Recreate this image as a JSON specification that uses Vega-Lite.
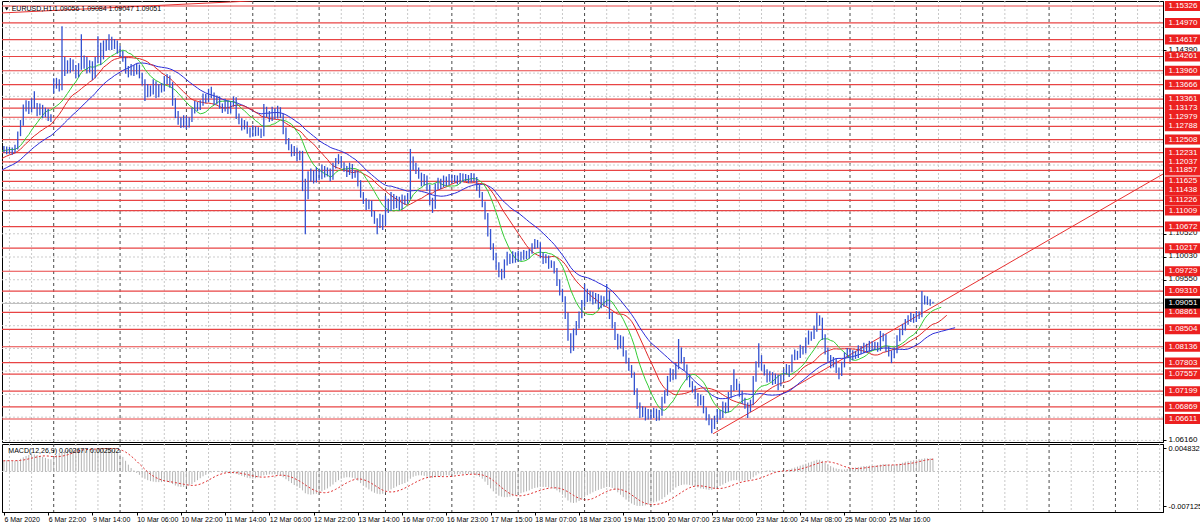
{
"$schema": "https://vega.github.io/schema/vega-lite/v6.json",
"padding": 0,
"background": "white",
"spacing": 2,
"bounds": "flush",
"config": {"view": {"stroke": "#000", "strokeWidth": 1}, "font": "Liberation Sans"},
"data": {"values": "b,h,l,c,m\n-32,1.1131,1.1115,1.1125,0.0012\n-31,1.1138,1.1120,1.1132,0.0012\n-30,1.1137,1.1122,1.1128,0.0013\n-29,1.1143,1.1124,1.1138,0.0013\n-28,1.1148,1.1133,1.1142,0.0014\n-27,1.1146,1.1130,1.1135,0.0014\n-26,1.1151,1.1131,1.1146,0.0015\n-25,1.1156,1.1141,1.1150,0.0015\n-24,1.1154,1.1139,1.1144,0.0015\n-23,1.1160,1.1140,1.1155,0.0016\n-22,1.1166,1.1150,1.1160,0.0016\n-21,1.1165,1.1152,1.1158,0.0016\n-20,1.1173,1.1154,1.1168,0.0017\n-19,1.1181,1.1163,1.1175,0.0017\n-18,1.1180,1.1166,1.1172,0.0018\n-17,1.1189,1.1168,1.1184,0.0018\n-16,1.1196,1.1179,1.1190,0.0019\n-15,1.1194,1.1181,1.1186,0.0019\n-14,1.1201,1.1182,1.1196,0.0019\n-13,1.1210,1.1191,1.1204,0.0020\n-12,1.1208,1.1195,1.1200,0.0020\n-11,1.1217,1.1196,1.1212,0.0021\n-10,1.1224,1.1207,1.1218,0.0021\n-9,1.1222,1.1210,1.1215,0.0021\n-8,1.1229,1.1211,1.1224,0.0022\n-7,1.1236,1.1219,1.1230,0.0022\n-6,1.1234,1.1221,1.1226,0.0022\n-5,1.1238,1.1222,1.1233,0.0022\n-4,1.1241,1.1228,1.1236,0.0022\n-3,1.1240,1.1224,1.1229,0.0022\n-2,1.1239,1.1225,1.1234,0.0022\n-1,1.1237,1.1223,1.1228,0.0022\n0,1.1237,1.1223,1.1232,0.0022\n1,1.1236,1.1220,1.1226,0.0023\n2,1.1235,1.1221,1.1230,0.0023\n3,1.1234,1.1219,1.1224,0.0022\n4,1.1240,1.1222,1.1233,0.0022\n5,1.1268,1.1230,1.1262,0.0023\n6,1.1292,1.1258,1.1285,0.0026\n7,1.1325,1.1280,1.1318,0.0029\n8,1.1334,1.1310,1.1325,0.0032\n9,1.1332,1.1305,1.1312,0.0034\n10,1.1338,1.1308,1.1330,0.0035\n11,1.1353,1.1316,1.1322,0.0035\n12,1.1328,1.1300,1.1308,0.0034\n13,1.1327,1.1302,1.1320,0.0032\n14,1.1324,1.1296,1.1304,0.0030\n15,1.1318,1.1298,1.1312,0.0028\n16,1.1316,1.1290,1.1298,0.0026\n17,1.1304,1.1288,1.1296,0.0025\n18,1.1380,1.1348,1.1365,0.0030\n19,1.1381,1.1358,1.1372,0.0034\n20,1.1378,1.1352,1.1360,0.0038\n21,1.1490,1.1355,1.1395,0.0041\n22,1.1425,1.1385,1.1410,0.0043\n23,1.1418,1.1390,1.1398,0.0044\n24,1.1423,1.1392,1.1415,0.0045\n25,1.1420,1.1395,1.1402,0.0045\n26,1.1408,1.1380,1.1388,0.0045\n27,1.1412,1.1382,1.1405,0.0046\n28,1.1473,1.1398,1.1406,0.0047\n29,1.1428,1.1400,1.1420,0.0046\n30,1.1425,1.1390,1.1398,0.0046\n31,1.1418,1.1392,1.1412,0.0046\n32,1.1416,1.1376,1.1385,0.0047\n33,1.1425,1.1380,1.1418,0.0047\n34,1.1469,1.1412,1.1440,0.0048\n35,1.1455,1.1408,1.1425,0.0048\n36,1.1460,1.1420,1.1450,0.00483\n37,1.1462,1.1438,1.1445,0.0048\n38,1.1473,1.1440,1.1462,0.0047\n39,1.1468,1.1440,1.1448,0.0046\n40,1.1463,1.1442,1.1455,0.0044\n41,1.1460,1.1432,1.1440,0.0040\n42,1.1448,1.1425,1.1432,0.0035\n43,1.1438,1.1415,1.1420,0.0030\n44,1.1425,1.1390,1.1398,0.0022\n45,1.1406,1.1382,1.1392,0.0014\n46,1.1410,1.1386,1.1402,0.0007\n47,1.1408,1.1385,1.1394,0.0002\n48,1.1412,1.1388,1.1405,-0.0003\n49,1.1409,1.1380,1.1388,-0.0007\n50,1.1392,1.1365,1.1372,-0.0011\n51,1.1378,1.1332,1.1348,-0.0015\n52,1.1368,1.1340,1.1360,-0.0018\n53,1.1365,1.1342,1.1352,-0.0020\n54,1.1378,1.1346,1.1370,-0.0021\n55,1.1374,1.1338,1.1345,-0.0022\n56,1.1368,1.1340,1.1362,-0.0022\n57,1.1370,1.1350,1.1358,-0.0022\n58,1.1385,1.1352,1.1375,-0.0021\n59,1.1389,1.1368,1.1380,-0.0021\n60,1.1386,1.1360,1.1368,-0.0023\n61,1.1372,1.1322,1.1330,-0.0026\n62,1.1338,1.1296,1.1305,-0.0029\n63,1.1311,1.1282,1.1290,-0.0031\n64,1.1298,1.1275,1.1282,-0.0032\n65,1.1302,1.1276,1.1295,-0.0032\n66,1.1300,1.1273,1.1280,-0.0031\n67,1.1298,1.1276,1.1292,-0.0029\n68,1.1318,1.1288,1.1312,-0.0026\n69,1.1332,1.1306,1.1325,-0.0022\n70,1.1330,1.1311,1.1318,-0.0018\n71,1.1334,1.1313,1.1328,-0.0014\n72,1.1348,1.1322,1.1342,-0.0010\n73,1.1347,1.1328,1.1335,-0.0007\n74,1.1358,1.1330,1.1350,-0.0004\n75,1.1362,1.1338,1.1345,-0.0002\n76,1.1350,1.1324,1.1330,-0.0001\n77,1.1344,1.1325,1.1338,0.0000\n78,1.1342,1.1316,1.1322,-0.0001\n79,1.1327,1.1307,1.1315,-0.0002\n80,1.1337,1.1310,1.1330,-0.0002\n81,1.1334,1.1305,1.1312,-0.0003\n82,1.1331,1.1306,1.1325,-0.0004\n83,1.1342,1.1320,1.1335,-0.0004\n84,1.1340,1.1294,1.1300,-0.0005\n85,1.1306,1.1283,1.1290,-0.0007\n86,1.1296,1.1270,1.1278,-0.0009\n87,1.1292,1.1272,1.1285,-0.0011\n88,1.1289,1.1263,1.1270,-0.0013\n89,1.1276,1.1255,1.1262,-0.0014\n90,1.1281,1.1257,1.1275,-0.0015\n91,1.1279,1.1258,1.1265,-0.0014\n92,1.1277,1.1259,1.1270,-0.0012\n93,1.1274,1.1254,1.1262,-0.0009\n94,1.1326,1.1258,1.1310,-0.0008\n95,1.1320,1.1298,1.1305,-0.0007\n96,1.1311,1.1288,1.1295,-0.0006\n97,1.1320,1.1290,1.1312,-0.0006\n98,1.1317,1.1294,1.1300,-0.0006\n99,1.1322,1.1295,1.1315,-0.0007\n100,1.1319,1.1296,1.1302,-0.0009\n101,1.1306,1.1262,1.1270,-0.0012\n102,1.1276,1.1241,1.1248,-0.0016\n103,1.1254,1.1228,1.1235,-0.0020\n104,1.1241,1.1215,1.1222,-0.0024\n105,1.1237,1.1216,1.1230,-0.0028\n106,1.1234,1.1205,1.1212,-0.0031\n107,1.1227,1.1207,1.1220,-0.0034\n108,1.1227,1.1142,1.1160,-0.0039\n109,1.1168,1.1051,1.1132,-0.0045\n110,1.1184,1.1125,1.1170,-0.0047\n111,1.1190,1.1162,1.1180,-0.0048\n112,1.1186,1.1158,1.1165,-0.0047\n113,1.1193,1.1160,1.1185,-0.0046\n114,1.1190,1.1165,1.1172,-0.0044\n115,1.1198,1.1167,1.1190,-0.0041\n116,1.1195,1.1171,1.1178,-0.0038\n117,1.1192,1.1173,1.1185,-0.0035\n118,1.1190,1.1163,1.1170,-0.0031\n119,1.1202,1.1166,1.1195,-0.0027\n120,1.1212,1.1190,1.1205,-0.0022\n121,1.1220,1.1199,1.1212,-0.0018\n122,1.1216,1.1191,1.1198,-0.0015\n123,1.1203,1.1183,1.1190,-0.0013\n124,1.1195,1.1172,1.1180,-0.0012\n125,1.1202,1.1176,1.1195,-0.0012\n126,1.1199,1.1168,1.1175,-0.0013\n127,1.1186,1.1170,1.1180,-0.0015\n128,1.1185,1.1152,1.1160,-0.0019\n129,1.1165,1.1128,1.1135,-0.0024\n130,1.1140,1.1115,1.1122,-0.0029\n131,1.1127,1.1102,1.1110,-0.0033\n132,1.1124,1.1104,1.1118,-0.0037\n133,1.1122,1.1088,1.1095,-0.0041\n134,1.1100,1.1073,1.1080,-0.0044\n135,1.1085,1.1051,1.1070,-0.0046\n136,1.1094,1.1064,1.1088,-0.0047\n137,1.1092,1.1060,1.1075,-0.0046\n138,1.1132,1.1070,1.1120,-0.0043\n139,1.1126,1.1096,1.1105,-0.0040\n140,1.1140,1.1100,1.1130,-0.0037\n141,1.1136,1.1104,1.1112,-0.0034\n142,1.1132,1.1106,1.1125,-0.0031\n143,1.1130,1.1101,1.1108,-0.0028\n144,1.1135,1.1103,1.1128,-0.0026\n145,1.1133,1.1113,1.1120,-0.0024\n146,1.1138,1.1115,1.1130,-0.0020\n147,1.1231,1.1125,1.1205,-0.0015\n148,1.1215,1.1186,1.1195,-0.0011\n149,1.1202,1.1178,1.1185,-0.0009\n150,1.1192,1.1168,1.1175,-0.0008\n151,1.1181,1.1152,1.1160,-0.0008\n152,1.1178,1.1154,1.1170,-0.0009\n153,1.1175,1.1142,1.1150,-0.0011\n154,1.1156,1.1112,1.1120,-0.0013\n155,1.1128,1.1096,1.1110,-0.0013\n156,1.1158,1.1105,1.1150,-0.0012\n157,1.1170,1.1145,1.1162,-0.0011\n158,1.1168,1.1146,1.1155,-0.0010\n159,1.1175,1.1150,1.1168,-0.0009\n160,1.1173,1.1153,1.1160,-0.0008\n161,1.1178,1.1155,1.1172,-0.0008\n162,1.1177,1.1159,1.1165,-0.0007\n163,1.1176,1.1160,1.1170,-0.0006\n164,1.1175,1.1156,1.1162,-0.0006\n165,1.1180,1.1158,1.1175,-0.0005\n166,1.1179,1.1161,1.1168,-0.0005\n167,1.1178,1.1163,1.1172,-0.0005\n168,1.1176,1.1159,1.1165,-0.0005\n169,1.1180,1.1160,1.1175,-0.0005\n170,1.1179,1.1162,1.1168,-0.0006\n171,1.1172,1.1143,1.1150,-0.0008\n172,1.1156,1.1128,1.1135,-0.0011\n173,1.1140,1.1108,1.1115,-0.0015\n174,1.1120,1.1082,1.1090,-0.0021\n175,1.1096,1.1046,1.1055,-0.0028\n176,1.1062,1.1018,1.1025,-0.0035\n177,1.1032,1.0996,1.1005,-0.0041\n178,1.1012,1.0976,1.0985,-0.0046\n179,1.0992,1.0960,1.0970,-0.0050\n180,1.0978,1.0955,1.0962,-0.0052\n181,1.0998,1.0958,1.0990,-0.0053\n182,1.1014,1.0985,1.1005,-0.0053\n183,1.1010,1.0988,1.0995,-0.0052\n184,1.1015,1.0990,1.1008,-0.0051\n185,1.1013,1.0991,1.0998,-0.0049\n186,1.1016,1.0993,1.1010,-0.0047\n187,1.1014,1.0995,1.1002,-0.0045\n188,1.1018,1.0997,1.1012,-0.0043\n189,1.1016,1.0998,1.1005,-0.0041\n190,1.1020,1.1000,1.1015,-0.0039\n191,1.1032,1.1010,1.1025,-0.0036\n192,1.1041,1.1020,1.1035,-0.0034\n193,1.1039,1.1022,1.1030,-0.0033\n194,1.1034,1.1001,1.1008,-0.0032\n195,1.1013,1.0988,1.0995,-0.0032\n196,1.1009,1.0990,1.1002,-0.0032\n197,1.1006,1.0978,1.0985,-0.0033\n198,1.0996,1.0980,1.0990,-0.0034\n199,1.0994,1.0968,1.0975,-0.0036\n200,1.0980,1.0942,1.0950,-0.0039\n201,1.0956,1.0922,1.0930,-0.0043\n202,1.0936,1.0908,1.0915,-0.0048\n203,1.0920,1.0872,1.0880,-0.0054\n204,1.0886,1.0826,1.0835,-0.0060\n205,1.0842,1.0800,1.0810,-0.0064\n206,1.0852,1.0805,1.0845,-0.0065\n207,1.0868,1.0838,1.0860,-0.0064\n208,1.0888,1.0852,1.0880,-0.0061\n209,1.0912,1.0874,1.0905,-0.0057\n210,1.0946,1.0898,1.0930,-0.0053\n211,1.0936,1.0908,1.0915,-0.0049\n212,1.0932,1.0909,1.0925,-0.0046\n213,1.0930,1.0903,1.0910,-0.0043\n214,1.0927,1.0905,1.0920,-0.0040\n215,1.0925,1.0893,1.0900,-0.0038\n216,1.0922,1.0895,1.0915,-0.0036\n217,1.0920,1.0898,1.0905,-0.0034\n218,1.0946,1.0900,1.0925,-0.0032\n219,1.0932,1.0872,1.0880,-0.0032\n220,1.0887,1.0852,1.0860,-0.0034\n221,1.0866,1.0828,1.0835,-0.0038\n222,1.0841,1.0808,1.0815,-0.0043\n223,1.0838,1.0810,1.0830,-0.0048\n224,1.0835,1.0793,1.0800,-0.0053\n225,1.0806,1.0778,1.0785,-0.0058\n226,1.0790,1.0763,1.0770,-0.0062\n227,1.0775,1.0748,1.0755,-0.0066\n228,1.0760,1.0712,1.0720,-0.0069\n229,1.0726,1.0682,1.0690,-0.0071\n230,1.0696,1.0663,1.0672,-0.00712\n231,1.0688,1.0665,1.0680,-0.0071\n232,1.0686,1.0658,1.0665,-0.0070\n233,1.0682,1.0660,1.0675,-0.0068\n234,1.0680,1.0660,1.0668,-0.0066\n235,1.0685,1.0663,1.0678,-0.0064\n236,1.0683,1.0657,1.0662,-0.0062\n237,1.0680,1.0658,1.0672,-0.0060\n238,1.0708,1.0668,1.0700,-0.0057\n239,1.0722,1.0694,1.0715,-0.0053\n240,1.0752,1.0710,1.0745,-0.0048\n241,1.0768,1.0740,1.0760,-0.0043\n242,1.0766,1.0743,1.0750,-0.0038\n243,1.0780,1.0745,1.0772,-0.0033\n244,1.0830,1.0766,1.0800,-0.0030\n245,1.0812,1.0778,1.0785,-0.0028\n246,1.0792,1.0763,1.0770,-0.0027\n247,1.0776,1.0743,1.0750,-0.0027\n248,1.0756,1.0728,1.0735,-0.0028\n249,1.0741,1.0717,1.0725,-0.0029\n250,1.0731,1.0703,1.0710,-0.0031\n251,1.0716,1.0688,1.0695,-0.0033\n252,1.0713,1.0690,1.0705,-0.0035\n253,1.0710,1.0673,1.0680,-0.0036\n254,1.0686,1.0658,1.0665,-0.0037\n255,1.0671,1.0648,1.0655,-0.0038\n256,1.0662,1.0631,1.0645,-0.0038\n257,1.0668,1.0640,1.0660,-0.0036\n258,1.0682,1.0655,1.0675,-0.0033\n259,1.0680,1.0660,1.0668,-0.0030\n260,1.0698,1.0663,1.0690,-0.0027\n261,1.0696,1.0673,1.0680,-0.0024\n262,1.0718,1.0675,1.0710,-0.0021\n263,1.0733,1.0705,1.0725,-0.0019\n264,1.0766,1.0720,1.0740,-0.0018\n265,1.0746,1.0722,1.0730,-0.0018\n266,1.0736,1.0708,1.0715,-0.0019\n267,1.0721,1.0693,1.0700,-0.0019\n268,1.0706,1.0683,1.0690,-0.0019\n269,1.0696,1.0663,1.0680,-0.0018\n270,1.0702,1.0676,1.0695,-0.0016\n271,1.0752,1.0690,1.0745,-0.0012\n272,1.0783,1.0740,1.0775,-0.0008\n273,1.0821,1.0770,1.0790,-0.0004\n274,1.0796,1.0763,1.0770,-0.0001\n275,1.0776,1.0753,1.0760,0.0001\n276,1.0766,1.0738,1.0745,0.0002\n277,1.0762,1.0740,1.0755,0.0002\n278,1.0760,1.0733,1.0740,0.0002\n279,1.0757,1.0735,1.0750,0.0001\n280,1.0755,1.0722,1.0735,0.0001\n281,1.0755,1.0730,1.0748,0.0001\n282,1.0767,1.0743,1.0760,0.0001\n283,1.0777,1.0755,1.0770,0.0002\n284,1.0775,1.0750,1.0765,0.0004\n285,1.0797,1.0760,1.0790,0.0006\n286,1.0808,1.0785,1.0800,0.0008\n287,1.0805,1.0786,1.0795,0.0010\n288,1.0818,1.0790,1.0810,0.0012\n289,1.0815,1.0797,1.0805,0.0014\n290,1.0833,1.0800,1.0825,0.0016\n291,1.0848,1.0818,1.0840,0.0018\n292,1.0846,1.0826,1.0835,0.0020\n293,1.0858,1.0830,1.0850,0.0022\n294,1.0885,1.0845,1.0865,0.0024\n295,1.0880,1.0858,1.0870,0.0024\n296,1.0875,1.0828,1.0835,0.0022\n297,1.0840,1.0797,1.0805,0.0018\n298,1.0812,1.0782,1.0790,0.0014\n299,1.0796,1.0768,1.0775,0.0011\n300,1.0792,1.0770,1.0785,0.0008\n301,1.0790,1.0758,1.0765,0.0006\n302,1.0770,1.0745,1.0758,0.0005\n303,1.0782,1.0752,1.0775,0.0004\n304,1.0802,1.0770,1.0795,0.0004\n305,1.0811,1.0790,1.0805,0.0005\n306,1.0810,1.0783,1.0790,0.0006\n307,1.0806,1.0785,1.0800,0.0007\n308,1.0805,1.0788,1.0795,0.0008\n309,1.0817,1.0790,1.0810,0.0009\n310,1.0815,1.0798,1.0805,0.0010\n311,1.0822,1.0800,1.0815,0.0011\n312,1.0820,1.0801,1.0808,0.0011\n313,1.0826,1.0803,1.0820,0.0012\n314,1.0825,1.0805,1.0812,0.0012\n315,1.0824,1.0807,1.0818,0.0012\n316,1.0823,1.0803,1.0810,0.0013\n317,1.0847,1.0805,1.0830,0.0014\n318,1.0842,1.0825,1.0835,0.0015\n319,1.0840,1.0803,1.0810,0.0015\n320,1.0815,1.0793,1.0800,0.0014\n321,1.0806,1.0779,1.0795,0.0013\n322,1.0812,1.0790,1.0805,0.0013\n323,1.0838,1.0800,1.0830,0.0014\n324,1.0852,1.0825,1.0845,0.0016\n325,1.0862,1.0838,1.0855,0.0018\n326,1.0872,1.0848,1.0865,0.0020\n327,1.0880,1.0860,1.0872,0.0021\n328,1.0886,1.0866,1.0878,0.0022\n329,1.0883,1.0864,1.0870,0.0023\n330,1.0889,1.0866,1.0882,0.0024\n331,1.0888,1.0872,1.0880,0.0025\n332,1.0931,1.0876,1.0910,0.0026\n333,1.0922,1.0903,1.0915,0.0027\n334,1.0920,1.0902,1.0908,0.0027\n335,1.0914,1.0900,1.09056,0.0027\n336,1.09084,1.09047,1.09051,0.002677\n337,,,,\n338,,,,\n339,,,,\n340,,,,\n341,,,,\n342,,,,\n343,,,,\n344,,,,", "format": {"type": "csv", "parse": {"b": "number", "h": "number", "l": "number", "c": "number", "m": "number"}}},
"vconcat": [
{
"width": 1161,
"height": 441,
"layer": [
{
"data": {"values": [2,10,26,34,50,58,74,82,98,106,122,130,146,154,170,178,194,202,218,226,242,250,266,274,290,298,314,322,338,346,362,370,386,394,410,418]},
"mark": {"type": "rule", "color": "#c8c8c8", "strokeWidth": 1, "strokeDash": [2, 2]},
"encoding": {
"x": {"field": "data", "type": "quantitative", "scale": {"domain": [-0.7, 419.2], "nice": false, "zero": false}, "axis": null}
}
},
{
"data": {"values": [18,42,66,90,114,138,162,186,210,234,258,282,306,330,354,378,402]},
"mark": {"type": "rule", "color": "#4a4a4a", "strokeWidth": 1, "strokeDash": [3, 3]},
"encoding": {
"x": {"field": "data", "type": "quantitative", "axis": null}
}
},
{
"data": {"values": [1.0616, 1.0665, 1.0713, 1.0762, 1.081, 1.0858, 1.0907, 1.0955, 1.1003, 1.1052, 1.11, 1.1149, 1.1197, 1.1245, 1.1294, 1.1342, 1.1391, 1.1439, 1.1487]},
"mark": {"type": "rule", "color": "#cccccc", "strokeWidth": 1, "strokeDash": [2, 2]},
"encoding": {
"y": {"field": "data", "type": "quantitative",
"scale": {"domain": [1.06126, 1.15432], "nice": false, "zero": false},
"axis": {"orient": "right", "title": null,
"values": [1.0616, 1.0955, 1.1003, 1.1052, 1.1439],
"format": ".5f", "grid": false, "labelOffset": -1,
"tickSize": 3, "tickColor": "#000", "domainColor": "#000",
"labelFontSize": 8, "labelColor": "#000", "labelPadding": 2,
"labelOverlap": false, "labelFlush": false}}
}
},
{
"data": {"values": [1.15326,1.14970,1.14617,1.14261,1.13960,1.13666,1.13361,1.13173,1.12979,1.12788,1.12508,1.12231,1.12037,1.11857,1.11625,1.11438,1.11226,1.11009,1.10672,1.10217,1.09729,1.09310,1.08861,1.08504,1.08136,1.07803,1.07557,1.07199,1.06869,1.06611]},
"mark": {"type": "rule", "color": "#e84444", "strokeWidth": 1.2},
"encoding": {
"y": {"field": "data", "type": "quantitative"}
}
},
{
"data": {"values": [1.09051]},
"mark": {"type": "rule", "color": "#b8b8b8", "strokeWidth": 1},
"encoding": {
"y": {"field": "data", "type": "quantitative"}
}
},
{
"data": {"values": [{"b": 256.5, "p": 1.0630, "t": "a"}, {"b": 419.2, "p": 1.1178, "t": "a"}, {"b": -0.7, "p": 1.1518, "t": "b"}, {"b": 90, "p": 1.15434, "t": "b"}]},
"mark": {"type": "line", "color": "#e83030", "strokeWidth": 1, "clip": true},
"encoding": {
"x": {"field": "b", "type": "quantitative", "axis": null},
"y": {"field": "p", "type": "quantitative"},
"detail": {"field": "t", "type": "nominal"}
}
},
{
"transform": [
{"window": [{"op": "mean", "field": "c", "as": "ma"}], "frame": [-30, 0], "sort": [{"field": "b"}]},
{"filter": "datum.b <= 344"}
],
"mark": {"type": "line", "color": "#2c2cd8", "strokeWidth": 1, "clip": true},
"encoding": {
"x": {"field": "b", "type": "quantitative", "axis": null},
"y": {"field": "ma", "type": "quantitative"}
}
},
{
"transform": [
{"window": [{"op": "mean", "field": "c", "as": "ma"}], "frame": [-18, 0], "sort": [{"field": "b"}]},
{"filter": "datum.b <= 341"}
],
"mark": {"type": "line", "color": "#e02828", "strokeWidth": 1, "clip": true},
"encoding": {
"x": {"field": "b", "type": "quantitative", "axis": null},
"y": {"field": "ma", "type": "quantitative"}
}
},
{
"transform": [
{"window": [{"op": "mean", "field": "c", "as": "ma"}], "frame": [-10, 0], "sort": [{"field": "b"}]},
{"filter": "datum.b <= 339"}
],
"mark": {"type": "line", "color": "#34cc34", "strokeWidth": 1, "clip": true},
"encoding": {
"x": {"field": "b", "type": "quantitative", "axis": null},
"y": {"field": "ma", "type": "quantitative"}
}
},
{
"transform": [{"filter": "datum.c != null"}],
"mark": {"type": "rule", "color": "#3352d0", "strokeWidth": 1.3, "clip": true},
"encoding": {
"x": {"field": "b", "type": "quantitative", "axis": null},
"y": {"field": "l", "type": "quantitative"},
"y2": {"field": "h"}
}
},
{
"data": {"values": [1.15326,1.14970,1.14617,1.14261,1.13960,1.13666,1.13361,1.13173,1.12979,1.12788,1.12508,1.12231,1.12037,1.11857,1.11625,1.11438,1.11226,1.11009,1.10672,1.10217,1.09729,1.09310,1.08861,1.08504,1.08136,1.07803,1.07557,1.07199,1.06869,1.06611]},
"mark": {"type": "tick", "orient": "horizontal", "size": 36, "thickness": 10, "color": "#ec2020", "opacity": 1},
"encoding": {
"x": {"datum": 426.4, "type": "quantitative", "axis": null},
"y": {"field": "data", "type": "quantitative"}
}
},
{
"data": {"values": [1.15326,1.14970,1.14617,1.14261,1.13960,1.13666,1.13361,1.13173,1.12979,1.12788,1.12508,1.12231,1.12037,1.11857,1.11625,1.11438,1.11226,1.11009,1.10672,1.10217,1.09729,1.09310,1.08861,1.08504,1.08136,1.07803,1.07557,1.07199,1.06869,1.06611]},
"mark": {"type": "text", "color": "#ffffff", "fontSize": 8, "align": "center", "baseline": "middle"},
"encoding": {
"x": {"datum": 426.4, "type": "quantitative", "axis": null},
"y": {"field": "data", "type": "quantitative"},
"text": {"field": "data", "type": "quantitative", "format": ".5f"}
}
},
{
"data": {"values": [1.09051]},
"mark": {"type": "tick", "orient": "horizontal", "size": 36, "thickness": 10, "color": "#000000", "opacity": 1},
"encoding": {
"x": {"datum": 426.4, "type": "quantitative", "axis": null},
"y": {"field": "data", "type": "quantitative"}
}
},
{
"data": {"values": [1.09051]},
"mark": {"type": "text", "color": "#ffffff", "fontSize": 8, "align": "center", "baseline": "middle"},
"encoding": {
"x": {"datum": 426.4, "type": "quantitative", "axis": null},
"y": {"field": "data", "type": "quantitative"},
"text": {"field": "data", "type": "quantitative", "format": ".5f"}
}
},
{
"data": {"values": [{"s": "x"}]},
"mark": {"type": "point", "shape": "triangle-down", "filled": true, "size": 14, "color": "#000000", "opacity": 1},
"encoding": {
"x": {"datum": 1.0, "type": "quantitative", "axis": null},
"y": {"datum": 1.15268, "type": "quantitative"}
}
},
{
"data": {"values": [{"t": "EURUSD,H1  1.09056 1.09084 1.09047 1.09051"}]},
"mark": {"type": "text", "color": "#000000", "fontSize": 7, "align": "left", "baseline": "middle"},
"encoding": {
"x": {"datum": 2.8, "type": "quantitative", "axis": null},
"y": {"datum": 1.15263, "type": "quantitative"},
"text": {"field": "t", "type": "nominal"}
}
}
]
},
{
"width": 1161,
"height": 68,
"layer": [
{
"data": {"values": [2,10,26,34,50,58,74,82,98,106,122,130,146,154,170,178,194,202,218,226,242,250,266,274,290,298,314,322,338,346,362,370,386,394,410,418]},
"mark": {"type": "rule", "color": "#c8c8c8", "strokeWidth": 1, "strokeDash": [2, 2]},
"encoding": {
"x": {"field": "data", "type": "quantitative", "scale": {"domain": [-0.7, 419.2], "nice": false, "zero": false}}
}
},
{
"data": {"values": [18,42,66,90,114,138,162,186,210,234,258,282,306,330,354,378,402]},
"mark": {"type": "rule", "color": "#4a4a4a", "strokeWidth": 1, "strokeDash": [3, 3]},
"encoding": {
"x": {"field": "data", "type": "quantitative"}
}
},
{
"data": {"values": [0]},
"mark": {"type": "rule", "color": "#c0c0c0", "strokeWidth": 1, "strokeDash": [2, 2]},
"encoding": {
"y": {"field": "data", "type": "quantitative"}
}
},
{
"transform": [{"filter": "datum.m != null"}],
"mark": {"type": "rule", "color": "#b4b4b4", "strokeWidth": 1, "clip": true},
"encoding": {
"x": {"field": "b", "type": "quantitative",
"axis": {"orient": "bottom", "title": null, "grid": false,
"values": [0, 16, 32, 48, 64, 80, 96, 112, 128, 144, 160, 176, 192, 208, 224, 240, 256, 272, 288, 304, 320],
"labelExpr": "split('6 Mar 2020|6 Mar 22:00|9 Mar 14:00|10 Mar 06:00|10 Mar 22:00|11 Mar 14:00|12 Mar 06:00|12 Mar 22:00|13 Mar 14:00|16 Mar 07:00|16 Mar 23:00|17 Mar 15:00|18 Mar 07:00|18 Mar 23:00|19 Mar 15:00|20 Mar 07:00|23 Mar 00:00|23 Mar 16:00|24 Mar 08:00|25 Mar 00:00|25 Mar 16:00', '|')[round(datum.value/16)]",
"labelAlign": "left", "labelFontSize": 7, "labelColor": "#000", "labelPadding": 0,
"tickSize": 3, "tickColor": "#000", "domainColor": "#000",
"labelOverlap": false, "labelFlush": false}},
"y": {"field": "m", "type": "quantitative",
"scale": {"domain": [-0.00836, 0.00566], "nice": false, "zero": false},
"axis": {"orient": "right", "title": null, "values": [0.004832, 0, -0.007125],
"labelExpr": "datum.value > 0.004 ? '0.004832' : (datum.value < -0.007 ? '-0.007125' : '0.00')",
"grid": false, "tickSize": 3, "tickColor": "#000", "domainColor": "#000",
"labelFontSize": 7.5, "labelColor": "#000", "labelPadding": 2,
"labelOverlap": false, "labelFlush": false}},
"y2": {"datum": 0}
}
},
{
"transform": [
{"window": [{"op": "mean", "field": "m", "as": "sig"}], "frame": [-8, 0], "sort": [{"field": "b"}]},
{"filter": "datum.m != null"}
],
"mark": {"type": "line", "color": "#e03030", "strokeWidth": 1, "strokeDash": [2, 2], "clip": true},
"encoding": {
"x": {"field": "b", "type": "quantitative"},
"y": {"field": "sig", "type": "quantitative"}
}
},
{
"data": {"values": [{"t": "MACD(12,26,9) 0.002677 0.002502"}]},
"mark": {"type": "text", "color": "#000000", "fontSize": 7, "align": "left", "baseline": "middle"},
"encoding": {
"x": {"datum": 1.6, "type": "quantitative"},
"y": {"datum": 0.00422, "type": "quantitative"},
"text": {"field": "t", "type": "nominal"}
}
}
]
}
]
}
